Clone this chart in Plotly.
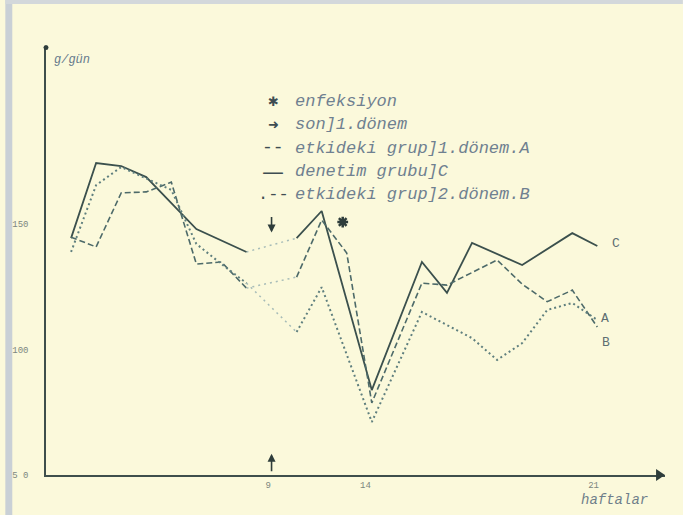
import plotly.graph_objects as go

# ---------------- data ----------------
weeks = list(range(1, 23))
# denetim grubu (C) - solid
group_C = [144.3, 174.2, 173.0, 168.6, None, 147.9, None, 138.8, None, 144.3, 155.1,
           None, 83.8, None, 134.8, 122.5, 142.4, None, 133.6, None, 146.3, 141.2]
# etkideki grup 1. donem (A) - dashed
group_A = [144.7, 140.8, 162.3, 162.7, 166.6, 134.0, 134.8, 124.4, None, 128.8, 151.5,
           138.4, 78.7, None, 126.4, 125.6, None, 135.6, 126.0, 119.0, 123.6, 108.9]
# etkideki grup 2. donem (B) - dotted
group_B = [138.8, 165.4, 172.6, 168.2, 163.5, 142.0, 134.0, 126.4, None, 106.9, 124.8,
           None, 71.1, None, 114.9, None, 104.5, 95.8, 102.5, 115.7, 118.5, 111.7]

period_end_week = 9          # "son 1.donem" arrows
infection_week = [11.84]     # enfeksiyon (asterisk)
infection_value = [150.7]

x_tick_positions = [8.87, 12.75, 21.85]
x_tick_labels = ["9", "14", "21"]
y_tick_values = [50, 100, 150]
y_tick_labels = ["5 0", "100", "150"]

legend_symbols = ["\u2731", "\u279c", "--", "\u2014", ".--"]
legend_texts = ["enfeksiyon", "son]1.dönem", "etkideki grup]1.dönem.A",
                "denetim grubu]C", "etkideki grup]2.dönem.B"]

# ---------------- layout helpers ----------------
W, H = 683, 515
L, R, T, B = 41, 18, 48, 40
PW, PH = W - L - R, H - T - B
def px(x):   # pixel -> paper x
    return (x - L) / PW
def py(y):   # pixel -> paper y
    return (H - B - y) / PH

BG = "#fbf9db"
C_DARK = "#3b504d"
C_A = "#4d6a69"
C_B = "#5f7f7e"
C_BRIDGE = "#a7bcb8"
TXT = "#6f8090"
MONO = "Liberation Mono, Courier New, monospace"

def segment(vals, lo, hi):
    xs, ys = [], []
    for w, v in zip(weeks, vals):
        if lo <= w <= hi and v is not None:
            xs.append(w); ys.append(v)
    return xs, ys

def bridge(vals):
    xs, ys = [], []
    for w, v in zip(weeks, vals):
        if w in (period_end_week - 1, period_end_week + 1) and v is not None:
            xs.append(w); ys.append(v)
    return xs, ys

fig = go.Figure()
series = [("C", group_C, C_DARK, "solid", 1.8),
          ("A", group_A, C_A, "6px,3px", 1.6),
          ("B", group_B, C_B, "2px,3px", 2.0)]
for name, vals, col, dash, lw in series:
    bx, by = bridge(vals)
    fig.add_trace(go.Scatter(x=bx, y=by, mode="lines", showlegend=False,
                             line=dict(color=C_BRIDGE, width=1.5, dash="2px,4px")))
    for lo, hi in [(1, period_end_week - 1), (period_end_week + 1, 22)]:
        sx, sy = segment(vals, lo, hi)
        fig.add_trace(go.Scatter(x=sx, y=sy, mode="lines", name=name, showlegend=False,
                                 line=dict(color=col, width=lw, dash=dash)))

fig.add_trace(go.Scatter(x=infection_week, y=infection_value, mode="markers",
                         showlegend=False, cliponaxis=False,
                         marker=dict(symbol="asterisk", size=9, color="#2e3d3b",
                                     line=dict(color="#2e3d3b", width=2.5))))

# arrows marking end of period 1
fig.add_annotation(x=period_end_week, y=146.5, xref="x", yref="y", ax=0, ay=-17,
                   showarrow=True, arrowhead=2, arrowsize=1, arrowwidth=1.6,
                   arrowcolor="#2e3d3b", text="")
fig.add_annotation(x=period_end_week, y=58.5, xref="x", yref="y", ax=0, ay=19,
                   showarrow=True, arrowhead=2, arrowsize=1, arrowwidth=1.6,
                   arrowcolor="#2e3d3b", text="")

def label(xx, yy, text, font, xanchor="center"):
    fig.add_annotation(x=px(xx), y=py(yy), xref="paper", yref="paper", text=text,
                       showarrow=False, xanchor=xanchor, yanchor="middle", font=font)

# series end labels
for lab, xx, yy in [("C", 616, 244), ("A", 605, 318), ("B", 606, 342)]:
    label(xx, yy, lab, dict(family=MONO, size=13, color="#5e6f72"))

# legend (typed lines)
leg_y = [101, 125, 148, 171, 194]
sym_fonts = {"\u2731": ("DejaVu Sans", 13), "\u279c": ("DejaVu Sans", 13),
             "--": (MONO, 18), "\u2014": ("DejaVu Sans", 22), ".--": (MONO, 17)}
for sym, txt, yy in zip(legend_symbols, legend_texts, leg_y):
    fam, sz = sym_fonts[sym]
    label(270, yy, sym, dict(family=fam, size=sz, color="#3e4d52"))
    label(290, yy, "<i>" + txt + "</i>", dict(family=MONO, size=17, color=TXT),
          xanchor="left")

# axis titles
label(47, 60, "<i>g/gün</i>", dict(family=MONO, size=12, color="#667a8c"), xanchor="left")
label(614, 500, "<i>haftalar</i>", dict(family=MONO, size=14, color="#6f7e8a"))

# decorations: axis end markers, scan borders
fig.add_shape(type="circle", xref="paper", yref="paper",
              x0=px(38.5), x1=px(43.5), y0=py(45), y1=py(50),
              fillcolor="#2e3d3b", line=dict(width=0))
fig.add_shape(type="path", xref="paper", yref="paper",
              path=f"M {px(656)} {py(469)} L {px(665)} {py(475)} L {px(656)} {py(481)} Z",
              fillcolor="#2e3d3b", line=dict(width=0))
fig.add_shape(type="rect", xref="paper", yref="paper", x0=px(0), x1=px(7), y0=py(515), y1=py(0),
              fillcolor="#c9d0d6", line=dict(width=0), layer="below")
fig.add_shape(type="rect", xref="paper", yref="paper", x0=px(0), x1=px(683), y0=py(4), y1=py(0),
              fillcolor="#d3d8db", line=dict(width=0), layer="below")

fig.update_layout(
    width=W, height=H, autosize=False,
    margin=dict(l=L, r=R, t=T, b=B),
    paper_bgcolor=BG, plot_bgcolor=BG,
    showlegend=False,
    xaxis=dict(range=[0, 24.7], showgrid=False, zeroline=False,
               showline=True, linecolor="#3f4f4c", linewidth=1.5,
               tickvals=x_tick_positions, ticktext=x_tick_labels, ticks="",
               tickfont=dict(family=MONO, size=9, color="#7c8680")),
    yaxis=dict(range=[50, 220], showgrid=False, zeroline=False,
               showline=True, linecolor="#3f4f4c", linewidth=1.5,
               tickvals=y_tick_values, ticktext=y_tick_labels, ticks="",
               ticklabelstandoff=14,
               tickfont=dict(family=MONO, size=9, color="#7c8680")),
)

fig.write_html("out.html", config={"displayModeBar": False},
               post_script="document.body.style.margin='0';document.body.style.overflow='hidden';")
